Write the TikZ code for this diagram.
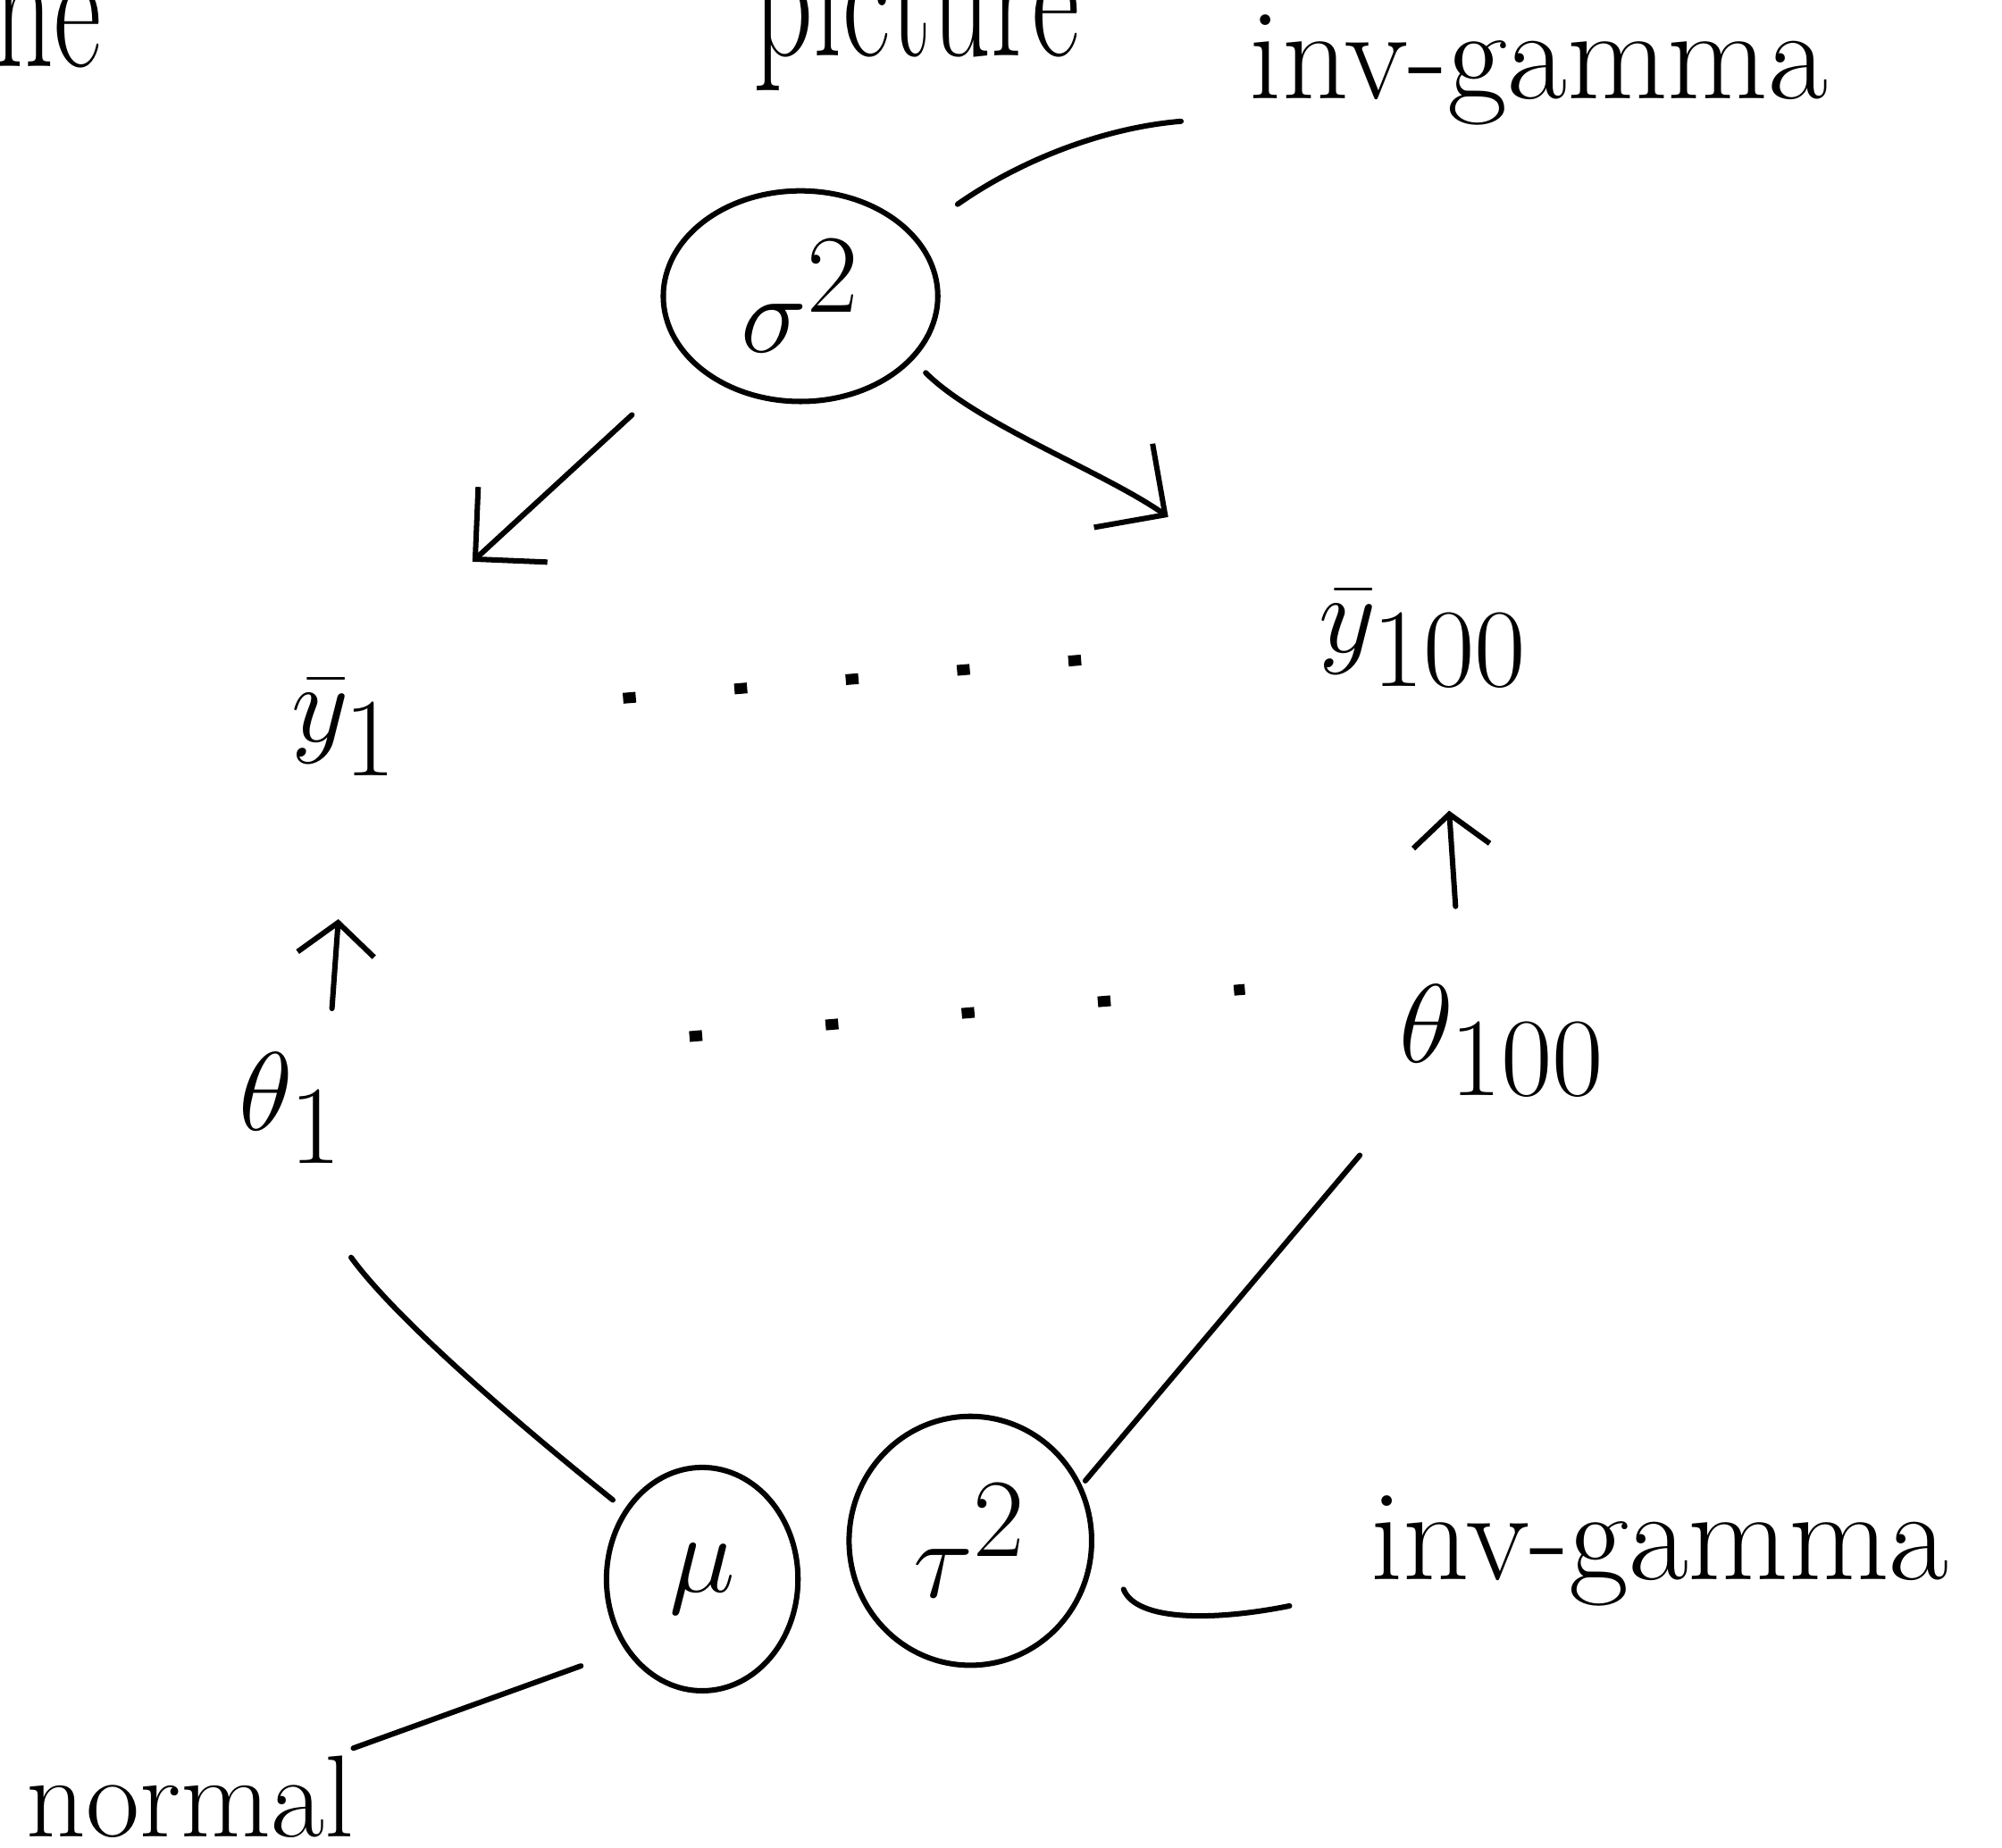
\documentclass[tikz,border=0pt]{standalone}
\usetikzlibrary{arrows.meta,shapes.geometric}
\begin{document}
\begin{tikzpicture}[x=0.1mm,y=-0.1mm,
  every node/.style={inner sep=0pt},
  lbl/.style={font=\fontsize{29}{34}\selectfont},
  var/.style={font=\fontsize{34}{40}\selectfont},
  toptxt/.style={font=\fontsize{40}{46}\selectfont, anchor=base west, xscale=0.65},
  circ/.style={ellipse, draw, line width=1.2pt},
  ln/.style={line width=1.2pt, line cap=round},
  arr/.style={ln, -{Straight Barb[length=4mm,width=8mm,line width=1.2pt]}},
  sarr/.style={ln, -{Straight Barb[length=2.5mm,width=6mm,line width=1.2pt]}},
  dotsy/.style={line width=2.4pt, dash pattern=on 1mm off 7.75mm},
  dotst/.style={line width=2.4pt, dash pattern=on 1mm off 9.7mm}]
\useasboundingbox (0,0) rectangle (1568,1447);
\clip (0,0) rectangle (1568,1447);

% partially visible text at the top edge
\node[toptxt] (t1) at (-5,52) {ne};
\node[toptxt] (t2) at (590,44) {picture};

% variables
\node[circ, var, minimum width=21.5mm, minimum height=16.5mm] (sig) at (627,232) {$\sigma^{2}$};
\node[circ, var, minimum width=15mm, minimum height=17.5mm] (mu) at (550,1237) {$\mu$};
\node[circ, var, minimum width=19mm, minimum height=19.5mm] (tau) at (760,1207) {$\tau^{2}$};
\node[var] (y1) at (270,570) {$\bar{y}_{1}$};
\node[var] (y100) at (1115,500) {$\bar{y}_{100}$};
\node[var] (th1) at (228,868) {$\theta_{1}$};
\node[var] (th100) at (1177,815) {$\theta_{100}$};

% labels
\node[lbl] (ig1) at (1205,55) {inv-gamma};
\node[lbl] (ig2) at (1300,1215) {inv-gamma};
\node[font=\fontsize{26}{30}\selectfont, anchor=south west] (nrm) at (20,1440) {normal};

% arrows
\draw[arr] ([shift={(-132,93)}]sig.center) -- ([shift={(100,-130)}]y1.center);
\draw[arr] ([shift={(98,60)}]sig.center) .. controls +(40,40) and +(-50,-35) .. ([shift={(-200,-95)}]y100.center);
\draw[sarr] ([shift={(32,-78)}]th1.center) -- ([shift={(-5,150)}]y1.center);
\draw[sarr] ([shift={(-37,-105)}]th100.center) -- ([shift={(20,135)}]y100.center);

% plain links
\draw[ln] ([shift={(47,117)}]th1.center) .. controls +(40,55) and +(-50,-40) .. ([shift={(-70,-62)}]mu.center);
\draw[ln] ([shift={(-112,90)}]th100.center) -- ([shift={(90,-47)}]tau.center);
\draw[ln] ([shift={(123,-72)}]sig.center) .. controls +(50,-35) and +(-60,5) .. ([shift={(-280,40)}]ig1.center);
\draw[ln] ([shift={(120,38)}]tau.center) .. controls +(10,25) and +(-60,12) .. ([shift={(-290,43)}]ig2.center);
\draw[ln] ([shift={(-95,68)}]mu.center) -- ([shift={(-1,-5)}]nrm.north east);

% dots
\draw[dotsy] ([shift={(218,-23)}]y1.center) -- ([shift={(-268,17)}]y100.center);
\draw[dotst] ([shift={(312,-56)}]th1.center) -- ([shift={(-202,-40)}]th100.center);
\end{tikzpicture}
\end{document}
